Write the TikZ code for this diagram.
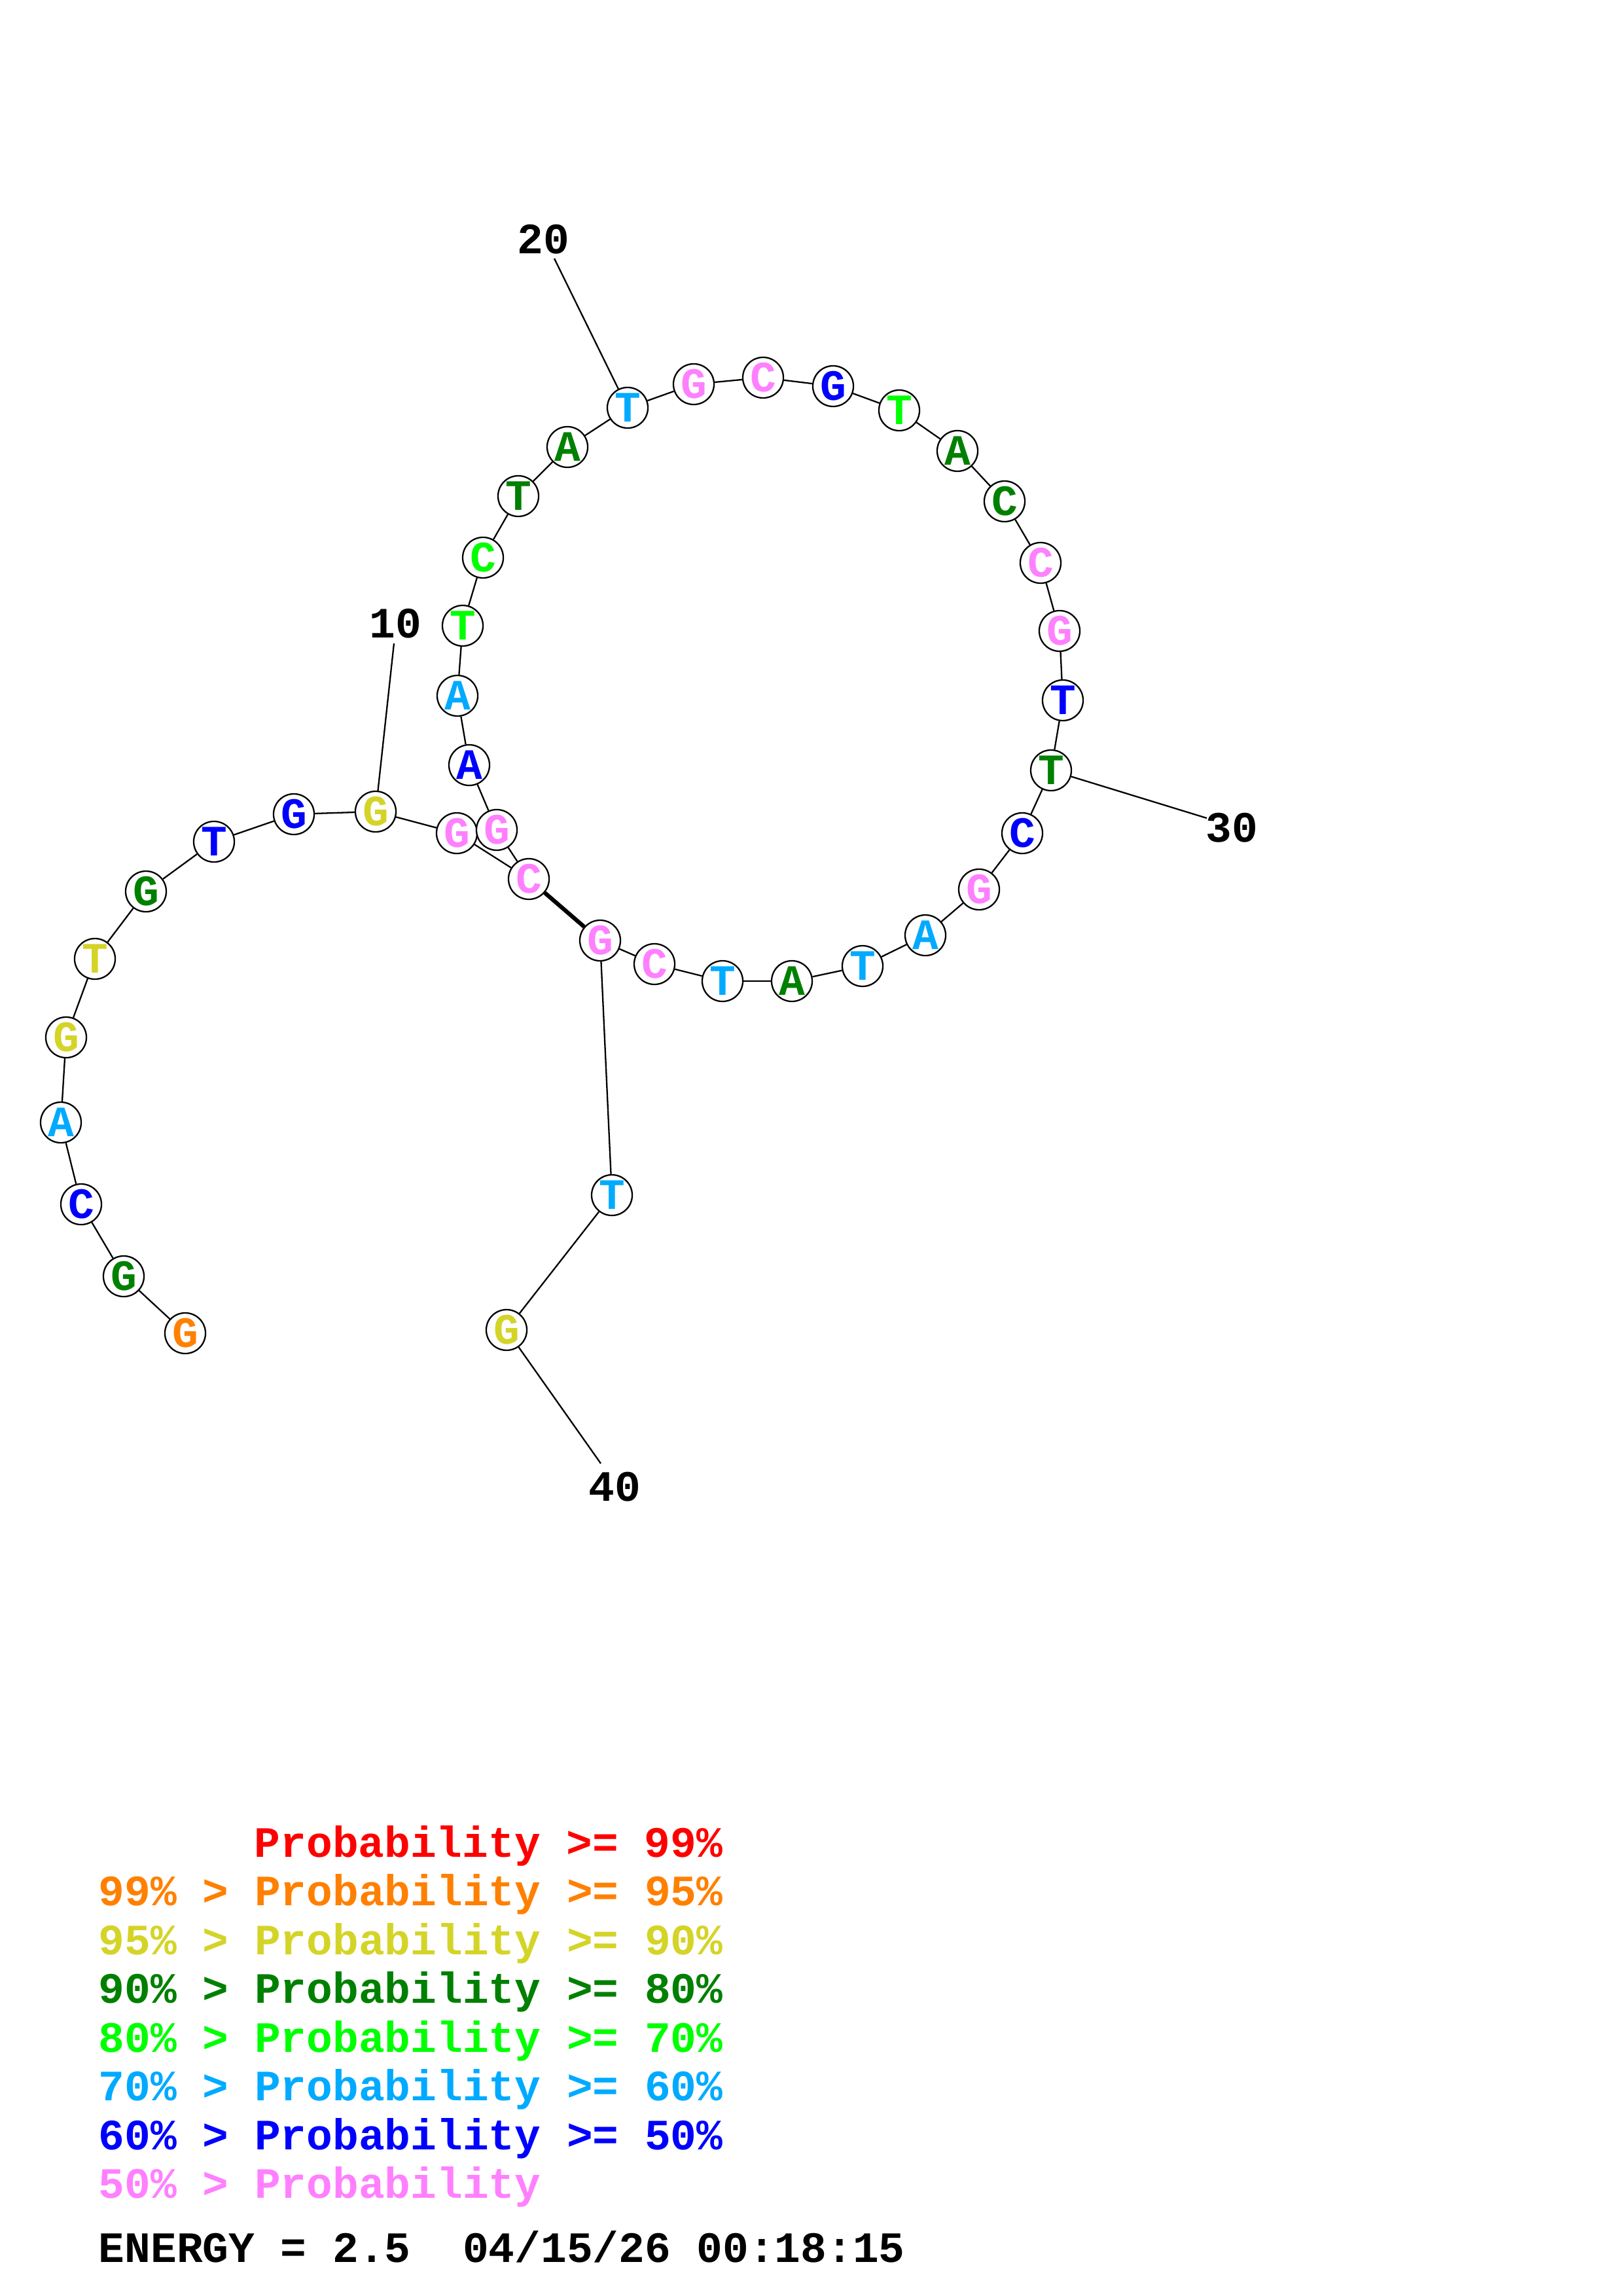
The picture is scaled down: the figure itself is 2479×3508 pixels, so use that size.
\documentclass[tikz,border=0pt]{standalone}
\usepackage{fontspec}
\setmonofont{Liberation Mono}
\usepackage{tikz}

\definecolor{p99}{RGB}{255,0,0}
\definecolor{p95}{RGB}{255,128,0}
\definecolor{p90}{RGB}{212,212,40}
\definecolor{p80}{RGB}{0,128,0}
\definecolor{p70}{RGB}{0,255,0}
\definecolor{p60}{RGB}{0,170,255}
\definecolor{p50}{RGB}{0,0,255}
\definecolor{plow}{RGB}{255,128,255}

\begin{document}
\begin{tikzpicture}[x=0.2401pt, y=-0.2401pt,
    every node/.style={font=\ttfamily\bfseries\fontsize{15.9pt}{19pt}\selectfont},
    nuc/.style={draw, circle, fill=white, minimum size=14.9pt, inner sep=0pt, line width=0.55pt},
    legend/.style={anchor=base west, inner sep=0pt},
    bb/.style={line width=0.55pt},
    pair/.style={line width=1.5pt}]
    \useasboundingbox (0,0) rectangle (2479,3508);

    \node[nuc, text=p95] (n1) at (283,2037) {G};
    \node[nuc, text=p80] (n2) at (189,1950) {G};
    \node[nuc, text=p50] (n3) at (124,1840) {C};
    \node[nuc, text=p60] (n4) at (93,1715) {A};
    \node[nuc, text=p90] (n5) at (101,1585) {G};
    \node[nuc, text=p90] (n6) at (145,1465) {T};
    \node[nuc, text=p80] (n7) at (223,1362) {G};
    \node[nuc, text=p50] (n8) at (327,1286) {T};
    \node[nuc, text=p50] (n9) at (449,1244) {G};
    \node[nuc, text=p90] (n10) at (574,1240) {G};
    \node[nuc, text=plow] (n11) at (698,1273) {G};
    \node[nuc, text=plow] (n12) at (808,1343) {C};
    \node[nuc, text=plow] (n13) at (759,1268) {G};
    \node[nuc, text=p50] (n14) at (717,1169) {A};
    \node[nuc, text=p60] (n15) at (699,1063) {A};
    \node[nuc, text=p70] (n16) at (707,956) {T};
    \node[nuc, text=p70] (n17) at (738,852) {C};
    \node[nuc, text=p80] (n18) at (792,758) {T};
    \node[nuc, text=p80] (n19) at (867,683) {A};
    \node[nuc, text=p60] (n20) at (959,623) {T};
    \node[nuc, text=plow] (n21) at (1060,587) {G};
    \node[nuc, text=plow] (n22) at (1166,577) {C};
    \node[nuc, text=p50] (n23) at (1273,590) {G};
    \node[nuc, text=p70] (n24) at (1374,627) {T};
    \node[nuc, text=p80] (n25) at (1463,689) {A};
    \node[nuc, text=p80] (n26) at (1535,766) {C};
    \node[nuc, text=plow] (n27) at (1590,860) {C};
    \node[nuc, text=plow] (n28) at (1619,964) {G};
    \node[nuc, text=p50] (n29) at (1624,1070) {T};
    \node[nuc, text=p80] (n30) at (1606,1177) {T};
    \node[nuc, text=p50] (n31) at (1562,1273) {C};
    \node[nuc, text=plow] (n32) at (1496,1359) {G};
    \node[nuc, text=p60] (n33) at (1414,1429) {A};
    \node[nuc, text=p60] (n34) at (1318,1476) {T};
    \node[nuc, text=p80] (n35) at (1210,1499) {A};
    \node[nuc, text=p60] (n36) at (1104,1499) {T};
    \node[nuc, text=plow] (n37) at (1000,1473) {C};
    \node[nuc, text=plow] (n38) at (917,1437) {G};
    \node[nuc, text=p60] (n39) at (935,1826) {T};
    \node[nuc, text=p90] (n40) at (774,2032) {G};

    \draw[bb] (n1) -- (n2) (n2) -- (n3) (n3) -- (n4) (n4) -- (n5) (n5) -- (n6)
        (n6) -- (n7) (n7) -- (n8) (n8) -- (n9) (n9) -- (n10) (n10) -- (n11);
    \draw[bb] (n11) -- (n12) (n12) -- (n13) (n13) -- (n14) (n14) -- (n15) (n15) -- (n16)
        (n16) -- (n17) (n17) -- (n18) (n18) -- (n19) (n19) -- (n20) (n20) -- (n21);
    \draw[bb] (n21) -- (n22) (n22) -- (n23) (n23) -- (n24) (n24) -- (n25) (n25) -- (n26)
        (n26) -- (n27) (n27) -- (n28) (n28) -- (n29) (n29) -- (n30) (n30) -- (n31);
    \draw[bb] (n31) -- (n32) (n32) -- (n33) (n33) -- (n34) (n34) -- (n35) (n35) -- (n36)
        (n36) -- (n37) (n37) -- (n38) (n38) -- (n39) (n39) -- (n40);
    \draw[pair] (n12) -- (n38);

    \node (lab10) at (604,953) {10};
    \node (lab20) at (830,366) {20};
    \node (lab30) at (1882,1265) {30};
    \node (lab40) at (939,2272) {40};
    \coordinate (t10) at (602,983);
    \coordinate (t20) at (847,395);
    \coordinate (t30) at (1844,1250);
    \coordinate (t40) at (918,2236);
    \draw[bb] (t10) -- (n10);
    \draw[bb] (t20) -- (n20);
    \draw[bb] (t30) -- (n30);
    \draw[bb] (t40) -- (n40);

    \node[legend, text=p99] (leg99) at (388,2837) {Probability >= 99\%};
    \node[legend, text=p95] (leg95) at (150,2911) {99\% > Probability >= 95\%};
    \node[legend, text=p90] (leg90) at (150,2986) {95\% > Probability >= 90\%};
    \node[legend, text=p80] (leg80) at (150,3060) {90\% > Probability >= 80\%};
    \node[legend, text=p70] (leg70) at (150,3135) {80\% > Probability >= 70\%};
    \node[legend, text=p60] (leg60) at (150,3209) {70\% > Probability >= 60\%};
    \node[legend, text=p50] (leg50) at (150,3284) {60\% > Probability >= 50\%};
    \node[legend, text=plow] (leglow) at (150,3358) {50\% > Probability};
    \node[legend] (energy) at (150,3456) {ENERGY = 2.5~~04/15/26 00:18:15};
\end{tikzpicture}
\end{document}
